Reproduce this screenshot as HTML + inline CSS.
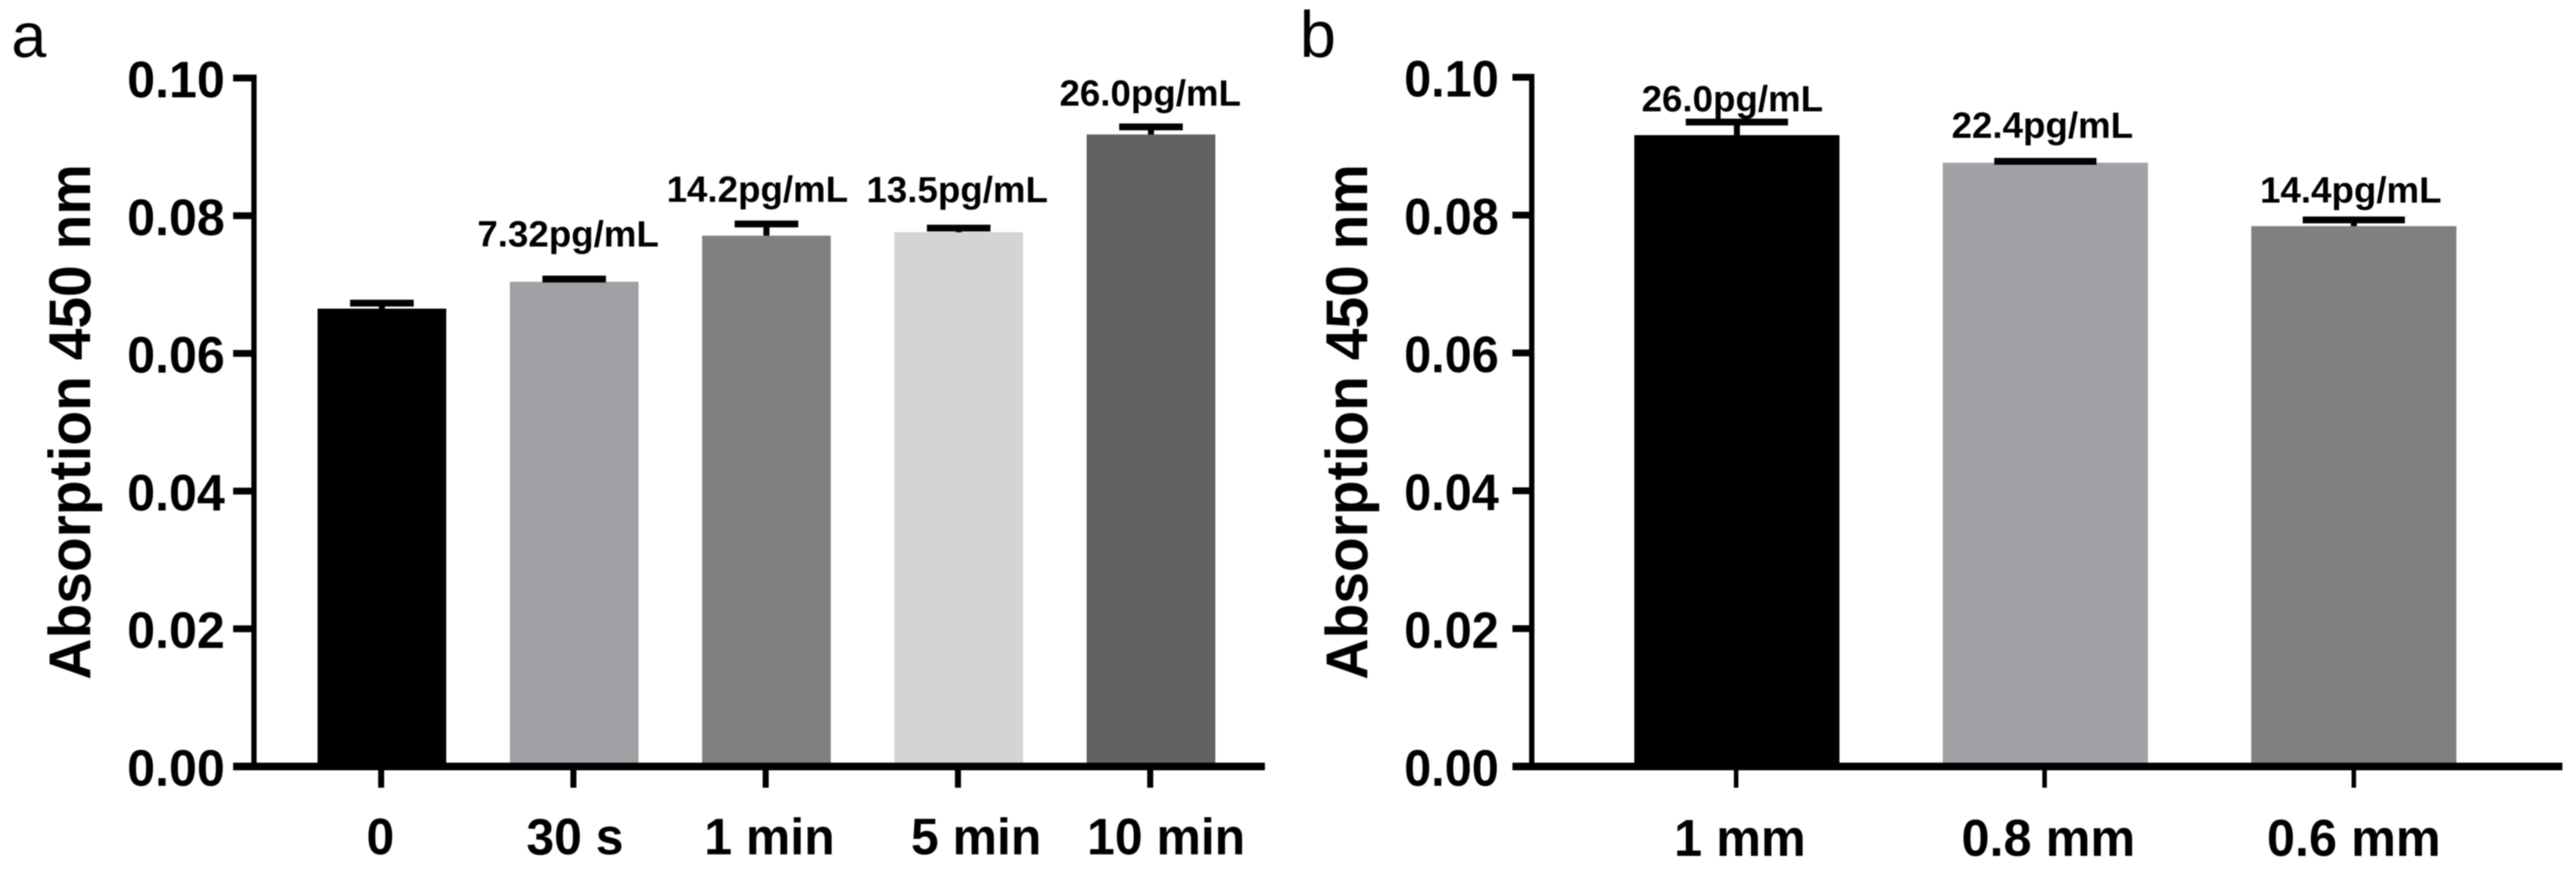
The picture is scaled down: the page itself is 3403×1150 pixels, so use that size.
<!DOCTYPE html>
<html lang="en">
<head>
<meta charset="utf-8">
<title>Absorption 450 nm bar charts</title>
<style>
  html, body { margin: 0; padding: 0; background: #fff; }
  #figure { display: block; width: 3403px; height: 1150px; filter: blur(0.9px); }
  text { font-family: "Liberation Sans", Arial, sans-serif; fill: #000; }
  .bold { font-weight: 700; }
</style>
</head>
<body>
<svg id="figure" xmlns="http://www.w3.org/2000/svg" width="3403" height="1150" viewBox="0 0 3403 1150">
  <rect x="0" y="0" width="3403" height="1150" fill="#fff"></rect>
  <g id="panel-a">
    <text x="15" y="75" font-size="83">a</text>
    <text class="bold" transform="translate(119 557) rotate(-90) scale(0.97 1)" text-anchor="middle" font-size="77.5">Absorption 450 nm</text>
  </g>
  <g id="panel-b">
    <text x="1717" y="75" font-size="86">b</text>
    <text class="bold" transform="translate(1806 557) rotate(-90) scale(0.97 1)" text-anchor="middle" font-size="77.5">Absorption 450 nm</text>
  </g>
</svg>
<script>
// Shared y axis
const yTickValues = [0, 0.02, 0.04, 0.06, 0.08, 0.10];
const yTickLabels = ['0.00', '0.02', '0.04', '0.06', '0.08', '0.10'];

// Panel a data
const categoriesA = ['0', '30 s', '1 min', '5 min', '10 min'];
const absorbanceA = [0.0665, 0.0704, 0.0771, 0.0776, 0.0918];
const errorsA = [0.0008, 0.0004, 0.0017, 0.0006, 0.0011];
const concentrationsA = ['', '7.32pg/mL', '14.2pg/mL', '13.5pg/mL', '26.0pg/mL'];

// Panel b data
const categoriesB = ['1 mm', '0.8 mm', '0.6 mm'];
const absorbanceB = [0.0916, 0.0876, 0.0784];
const errorsB = [0.0019, 0.0002, 0.0009];
const concentrationsB = ['26.0pg/mL', '22.4pg/mL', '14.4pg/mL'];

const SVG_NS = 'http://www.w3.org/2000/svg';

function addRect(parent, x, y, w, h, fill, name) {
  const el = document.createElementNS(SVG_NS, 'rect');
  el.setAttribute('x', x);
  el.setAttribute('y', y);
  el.setAttribute('width', w);
  el.setAttribute('height', h);
  el.setAttribute('fill', fill);
  
  
  parent.appendChild(el);
  return el;
}

function addText(parent, x, y, str, size, anchor, scaleX, name) {
  const el = document.createElementNS(SVG_NS, 'text');
  el.setAttribute('class', 'bold');
  el.setAttribute('transform', 'translate(' + x + ' ' + y + ') scale(' + scaleX + ' 1)');
  el.setAttribute('font-size', size);
  el.setAttribute('text-anchor', anchor);
  el.textContent = str;
  
  
  parent.appendChild(el);
  return el;
}

function slug(s) {
  return s.replace(/[^a-zA-Z0-9]+/g, '-').toLowerCase();
}

function drawPanel(parent, categories, values, errors, concentrations, layout) {
  const y = v => layout.y0 - v * layout.yScale;
  const x = i => layout.x0 + i * layout.xStep;

  // Bars
  categories.forEach((cat, i) => {
    addRect(parent, x(i) - layout.barW / 2, y(values[i]), layout.barW, layout.y0 - y(values[i]), layout.fills[i], 'bar-' + slug(cat));
  });

  // Error bars (upper whisker and cap)
  categories.forEach((cat, i) => {
    const top = y(values[i] + errors[i]);
    addRect(parent, x(i) - layout.stemW / 2, top, layout.stemW, y(values[i]) - top, '#000', 'error-stem-' + slug(cat));
    addRect(parent, x(i) - layout.capW / 2, top - 4.5, layout.capW, 9, '#000', 'error-cap-' + slug(cat));
  });

  // Y axis line and ticks
  addRect(parent, layout.axisX, y(yTickValues[yTickValues.length - 1]) - 4.5, layout.axisW, layout.y0 - y(yTickValues[yTickValues.length - 1]) + 9.5, '#000', 'y-axis-line');
  yTickValues.forEach((v, i) => {
    addRect(parent, layout.tickLeft, y(v) - 4.5, layout.axisX - layout.tickLeft, 9, '#000', 'y-tick-' + slug(yTickLabels[i]));
    addText(parent, layout.labelRight, y(v) + 25.5, yTickLabels[i], layout.yFont, 'end', layout.yLabelScale, 'y-tick-label-' + slug(yTickLabels[i]));
  });

  // X axis line, ticks and labels
  addRect(parent, layout.tickLeft, layout.y0 - 5, layout.xEnd - layout.tickLeft, 10, '#000', 'x-axis-line');
  categories.forEach((cat, i) => {
    addRect(parent, x(i) + layout.tickDx[i] - layout.xTickW / 2, layout.y0 + 5, layout.xTickW, 23, '#000', 'x-tick-' + slug(cat));
    addText(parent, x(i) + layout.labelDx[i], layout.xLabelY, cat, layout.xFont, 'middle', layout.xLabelScale, 'x-tick-label-' + slug(cat));
  });

  // Concentration annotations
  categories.forEach((cat, i) => {
    if (!concentrations[i]) return;
    const top = y(values[i] + errors[i]);
    addText(parent, x(i) + layout.noteDx[i], top - layout.noteGap[i], concentrations[i], 48.5, 'middle', 1, 'value-label-' + slug(cat));
  });
}

drawPanel(document.getElementById('panel-a'), categoriesA, absorbanceA, errorsA, concentrationsA, {
  y0: 1012, yScale: 9090, x0: 504.5, xStep: 254,
  barW: 170, capW: 84, stemW: 8,
  axisX: 332, axisW: 7, tickLeft: 308, labelRight: 297, xEnd: 1671,
  xTickW: 8, xLabelY: 1128, yFont: 68, xFont: 68, yLabelScale: 0.975, xLabelScale: 0.97,
  fills: ['#000000', '#a0a0a4', '#808080', '#d4d4d4', '#626262'],
  tickDx: [-1, -1, -1, -1, -1],
  labelDx: [-2, 1, 4, 23, 20],
  noteDx: [0, -8, -12, -2, -1],
  noteGap: [0, 43, 29, 34, 28]
});

drawPanel(document.getElementById('panel-b'), categoriesB, absorbanceB, errorsB, concentrationsB, {
  y0: 1012, yScale: 9100, x0: 2294.5, xStep: 407.5,
  barW: 271, capW: 135, stemW: 8,
  axisX: 2020, axisW: 7, tickLeft: 1998, labelRight: 1980, xEnd: 3385,
  xTickW: 6, xLabelY: 1130, yFont: 68, xFont: 69, yLabelScale: 0.945, xLabelScale: 0.965,
  fills: ['#000000', '#a2a2a6', '#808080'],
  tickDx: [-1, -1, 0],
  labelDx: [4, 4, 0],
  noteDx: [-6, -4, -4],
  noteGap: [14, 31, 23]
});
</script>
</body>
</html>
